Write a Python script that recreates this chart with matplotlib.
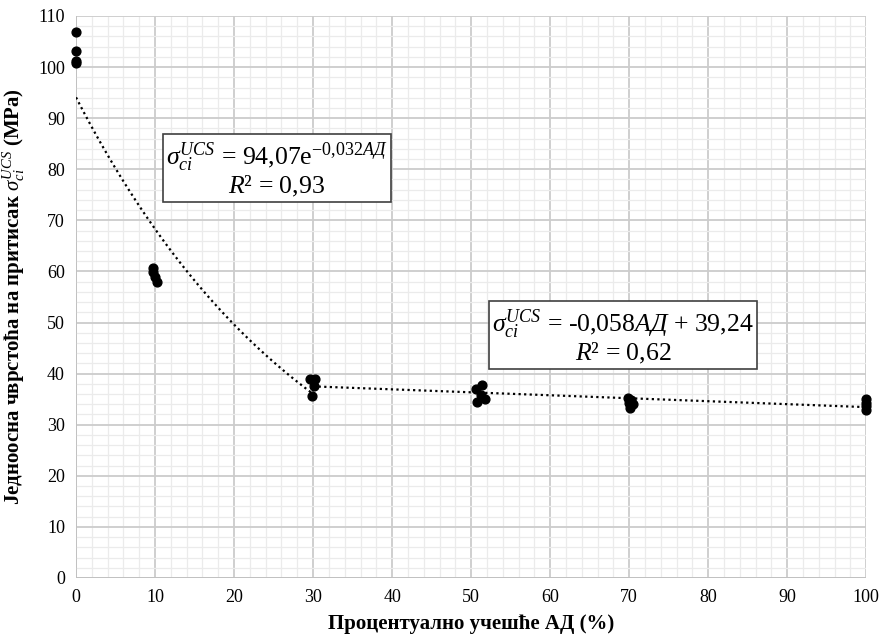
import numpy as np
import matplotlib.pyplot as plt
from matplotlib.ticker import MultipleLocator

plt.rcParams['font.family'] = ['Liberation Serif', 'DejaVu Serif']
plt.rcParams['mathtext.fontset'] = 'custom'
plt.rcParams['mathtext.rm'] = 'Liberation Serif'
plt.rcParams['mathtext.it'] = 'Liberation Serif:italic'
plt.rcParams['mathtext.bf'] = 'Liberation Serif:bold'

# Mjerenja (procenat AD, cvrstoca MPa)
ad = [0, 0, 0, 0,
      9.7, 9.8, 10.0, 10.2,
      29.6, 30.2, 30.1, 29.9,
      50.6, 51.4, 51.2, 50.7, 51.7,
      69.8, 70.2, 70.0, 70.5, 70.1,
      100, 100, 100, 100]
ucs = [106.8, 103.2, 101.1, 100.7,
       60.6, 59.8, 59.0, 58.0,
       39.0, 38.9, 37.6, 35.6,
       36.9, 37.7, 35.9, 34.4, 35.0,
       35.2, 34.8, 34.3, 34.0, 33.3,
       35.0, 34.3, 33.6, 32.8]

# Trend linije
exp_a, exp_b = 94.07, -0.032
lin_k, lin_n = -0.058, 39.24

fig = plt.figure(figsize=(8.81, 6.39), dpi=100)
ax = fig.add_axes([0.0863, 0.0955, 0.897, 0.8795])

ax.set_xlim(0, 100)
ax.set_ylim(0, 110)
ax.xaxis.set_major_locator(MultipleLocator(10))
ax.yaxis.set_major_locator(MultipleLocator(10))
ax.xaxis.set_minor_locator(MultipleLocator(2))
ax.yaxis.set_minor_locator(MultipleLocator(2))
ax.grid(which='major', color='#cccccc', linewidth=1.3)
ax.grid(which='minor', color='#ebebeb', linewidth=0.9)
ax.set_axisbelow(True)
ax.tick_params(which='both', length=0, labelsize=13, pad=8)
for s in ax.spines.values():
    s.set_visible(False)
ax.axhline(0, color='#bfbfbf', lw=1.2, zorder=1)
ax.axvline(0, color='#bfbfbf', lw=1.2, zorder=1)

xe = np.linspace(0, 30, 100)
ax.plot(xe, exp_a*np.exp(exp_b*xe), color='black', ls=(0, (1, 1.5)), lw=1.6)
xl = np.linspace(30, 100, 10)
ax.plot(xl, lin_k*xl + lin_n, color='black', ls=(0, (1, 1.5)), lw=1.6)

ax.scatter(ad, ucs, s=40, color='black', zorder=3, clip_on=False)

ax.text(0.254, 0.726,
        '$\\sigma_{ci}^{UCS}$ = 94,07e$^{-0{,}032АД}$\n$R$² = 0,93',
        transform=ax.transAxes, ha='center', va='center', fontsize=18.5,
        linespacing=1.0,
        bbox=dict(boxstyle='square,pad=0.12', fc='white', ec='#404040', lw=1.2))
ax.text(0.692, 0.429,
        '$\\sigma_{ci}^{UCS}$ = -0,058$АД$ + 39,24\n$R$² = 0,62',
        transform=ax.transAxes, ha='center', va='center', fontsize=18.5,
        linespacing=1.0,
        bbox=dict(boxstyle='square,pad=0.12', fc='white', ec='#404040', lw=1.2))

ax.set_xlabel('Процентуално учешће АД (%)', fontsize=15, fontweight='bold', labelpad=6)
ax.set_ylabel('Једноосна чврстоћа на притисак $\\sigma_{ci}^{UCS}$ (MPa)',
              fontsize=15, fontweight='bold', labelpad=8)

fig.savefig('out.png', dpi=100)
